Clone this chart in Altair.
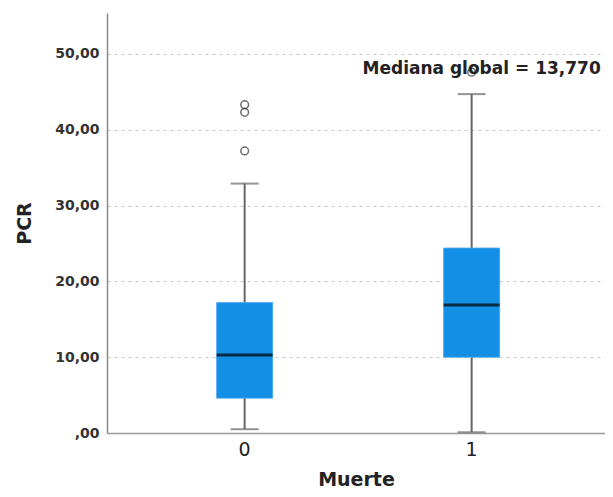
import altair as alt
import pandas as pd

# Summary statistics (PCR by Muerte)
groups = ["0", "1"]
whisker_low = [0.5, 0.1]
q1 = [4.6, 10.0]
median = [10.3, 16.9]
q3 = [17.2, 24.4]
whisker_high = [32.9, 44.7]

outlier_group = ["0", "0", "0", "1"]
outlier_value = [43.3, 42.3, 37.2, 47.6]

annotation = ["Mediana global = 13,770"]
annotation_group = ["1"]
annotation_y = [48.0]

y_ticks = [0, 10, 20, 30, 40, 50]

box_df = pd.DataFrame({
    "Muerte": groups, "lo": whisker_low, "q1": q1, "med": median,
    "q3": q3, "hi": whisker_high,
})
out_df = pd.DataFrame({"Muerte": outlier_group, "PCR": outlier_value})
ann_df = pd.DataFrame({"Muerte": annotation_group, "y": annotation_y, "label": annotation})

FONT = "DejaVu Sans"
BOX = "#138FE6"

x_enc = alt.X(
    "Muerte:N",
    title="Muerte",
    sort=groups,
    scale=alt.Scale(domain=groups, paddingInner=0.753, paddingOuter=0.4735, align=0.51),
    axis=alt.Axis(
        labelAngle=0, labelFontSize=19, labelFont=FONT, labelColor="#222",
        labelPadding=7, ticks=False, domainColor="#999", domainWidth=1.5,
        titleFontSize=19, titleFont=FONT, titleFontWeight="bold",
        titleColor="#222", titlePadding=11, grid=False,
    ),
)

y_scale = alt.Scale(domain=[0, 55.4], nice=False, zero=True)
y_axis = alt.Axis(
    values=y_ticks,
    labelExpr="datum.value == 0 ? ',00' : replace(format(datum.value, '.2f'), '.', ',')",
    labelFont=FONT, labelFontSize=14, labelFontWeight="bold", labelColor="#333",
    labelPadding=8, ticks=False, domainColor="#888", domainWidth=1.5,
    grid=True, gridColor="#c8c8c8", gridDash=[3, 4], gridWidth=1,
    title="PCR", titleFont=FONT, titleFontSize=19, titleFontWeight="bold",
    titleColor="#222", titlePadding=20,
)

base = alt.Chart(box_df)

whisker_up = base.mark_rule(color="#666", strokeWidth=2).encode(
    x=x_enc,
    y=alt.Y("q3:Q", scale=y_scale, axis=y_axis),
    y2="hi:Q",
)
whisker_down = base.mark_rule(color="#666", strokeWidth=2).encode(
    x=x_enc, y=alt.Y("lo:Q", scale=y_scale), y2="q1:Q",
)
cap_hi = base.mark_tick(color="#666", thickness=2, size=28, orient="horizontal").encode(
    x=x_enc, y=alt.Y("hi:Q", scale=y_scale),
)
cap_lo = base.mark_tick(color="#666", thickness=2, size=28, orient="horizontal").encode(
    x=x_enc, y=alt.Y("lo:Q", scale=y_scale),
)
box = base.mark_bar(color=BOX, stroke="#4aa6ee", strokeWidth=0.8).encode(
    x=x_enc, y=alt.Y("q1:Q", scale=y_scale), y2="q3:Q",
)
med = base.mark_tick(color="black", thickness=3, size=56, orient="horizontal").encode(
    x=x_enc, y=alt.Y("med:Q", scale=y_scale),
)
outliers = alt.Chart(out_df).mark_point(
    shape="circle", filled=False, color="#333", size=60, strokeWidth=1.5,
).encode(x=x_enc, y=alt.Y("PCR:Q", scale=y_scale))

ann = alt.Chart(ann_df).mark_text(
    font=FONT, fontSize=17, fontWeight="bold", color="#222",
    align="center", baseline="middle", dx=10,
).encode(x=x_enc, y=alt.Y("y:Q", scale=y_scale), text="label:N")

chart = alt.layer(
    whisker_up, whisker_down, cap_hi, cap_lo, box, med, outliers, ann
).properties(
    width=498, height=420,
    autosize=alt.AutoSizeParams(type="none"),
    padding={"left": 99, "top": 5, "right": 0, "bottom": 56},
    background="white",
).configure_view(stroke=None)

chart.save("out.html", embed_options={"renderer": "svg", "actions": False})
